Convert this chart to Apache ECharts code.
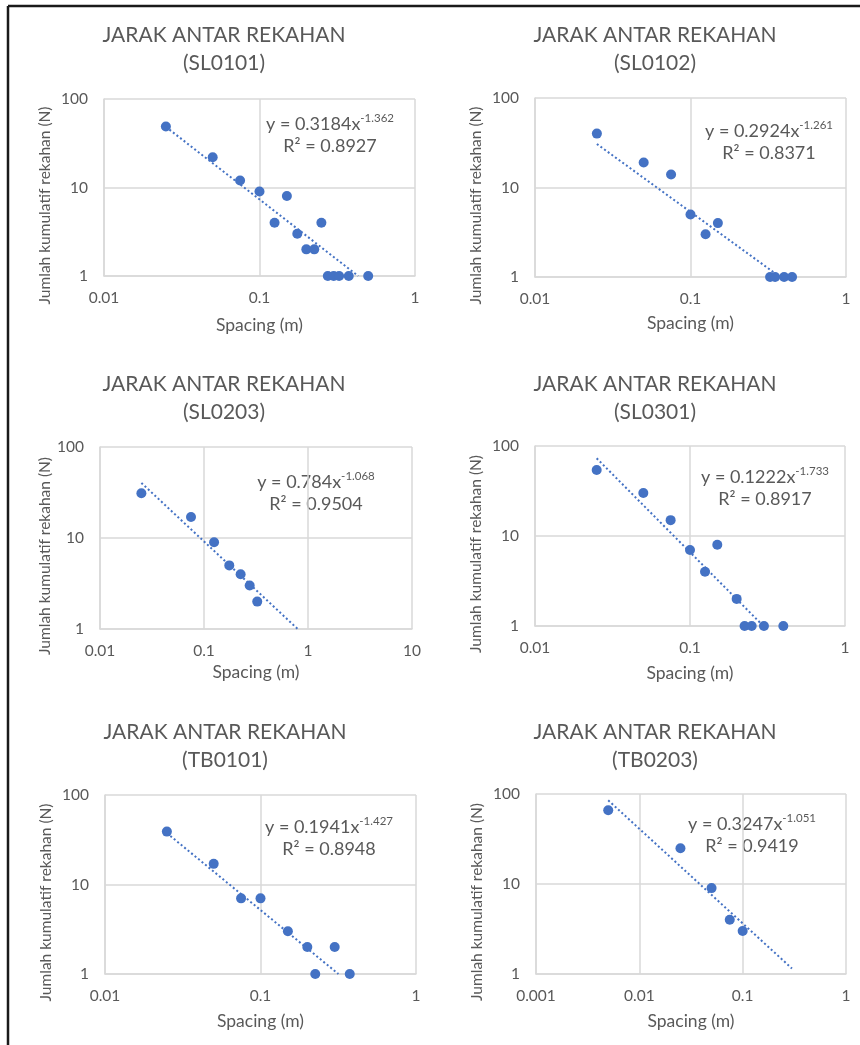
<!DOCTYPE html>
<html>
<head>
<meta charset="utf-8">
<title>Jarak antar rekahan</title>
<script src="https://cdn.jsdelivr.net/npm/echarts@6.0.0/dist/echarts.min.js"></script>
<style>
  html, body { margin: 0; padding: 0; background: #fff; }
  #chart { width: 860px; height: 1045px; }
</style>
</head>
<body>
<div id="chart"></div>
<script>
// values: spacing (m) vs cumulative number of fractures (N)
var stations = ['SL0101', 'SL0102', 'SL0203', 'SL0301', 'TB0101', 'TB0203'];

var sl0101Spacing = [0.025, 0.05, 0.075, 0.1, 0.125, 0.15, 0.175, 0.2, 0.225, 0.25, 0.275, 0.3, 0.325, 0.375, 0.5];
var sl0101Count   = [49, 22, 12, 9, 4, 8, 3, 2, 2, 4, 1, 1, 1, 1, 1];

var sl0102Spacing = [0.025, 0.05, 0.075, 0.1, 0.125, 0.15, 0.325, 0.35, 0.4, 0.45];
var sl0102Count   = [40, 19, 14, 5, 3, 4, 1, 1, 1, 1];

var sl0203Spacing = [0.025, 0.075, 0.125, 0.175, 0.225, 0.275, 0.325];
var sl0203Count   = [31, 17, 9, 5, 4, 3, 2];

var sl0301Spacing = [0.025, 0.05, 0.075, 0.1, 0.125, 0.15, 0.2, 0.225, 0.25, 0.3, 0.4];
var sl0301Count   = [54, 30, 15, 7, 4, 8, 2, 1, 1, 1, 1];

var tb0101Spacing = [0.025, 0.05, 0.075, 0.1, 0.15, 0.2, 0.225, 0.3, 0.375];
var tb0101Count   = [39, 17, 7, 7, 3, 2, 1, 2, 1];

var tb0203Spacing = [0.005, 0.025, 0.05, 0.075, 0.1];
var tb0203Count   = [66, 25, 9, 4, 3];

// power trendline y = a * x^b as printed on each chart
var fitA  = [0.3184, 0.2924, 0.784, 0.1222, 0.1941, 0.3247];
var fitB  = [-1.362, -1.261, -1.068, -1.733, -1.427, -1.051];
var fitR2 = ['0.8927', '0.8371', '0.9504', '0.8917', '0.8948', '0.9419'];
var trendFrom = [0.025, 0.025, 0.025, 0.025, 0.025, 0.005];
var trendTo   = [0.5, 0.45, 1, 0.4, 0.375, 0.3];

// axis ranges
var xMin = [0.01, 0.01, 0.01, 0.01, 0.01, 0.001];
var xMax = [1, 1, 10, 1, 1, 1];
var yMin = 1, yMax = 100;

var spacingList = [sl0101Spacing, sl0102Spacing, sl0203Spacing, sl0301Spacing, tb0101Spacing, tb0203Spacing];
var countList   = [sl0101Count, sl0102Count, sl0203Count, sl0301Count, tb0101Count, tb0203Count];

// layout (px)
var plotBox = [
  [104, 99, 311, 177], [535, 98, 311, 179],
  [100, 447, 312, 182], [535, 446, 310, 180],
  [105, 795, 311, 179], [536, 794, 310, 180]
];
var titlePos = [[224, 35], [655, 35], [224, 384], [655, 384], [225, 732], [655, 732]];
var eqPos = [[330, 135], [769, 142], [316, 493], [765, 488], [329, 838], [752, 835]];
var yNameGap = [51, 51, 47, 51, 51, 51];
var xNameGap = [40, 37, 34, 38, 38, 38];

var FONT = 'Lato, "Open Sans", sans-serif';
var TXT = '#595959';
var BLUE = '#4472C4';
var GRID = '#d9d9d9';

function tickText(v) { return String(+(+v).toPrecision(3)); }

var grids = [], xAxes = [], yAxes = [], series = [], graphics = [];

for (var i = 0; i < stations.length; i++) {
  var b = plotBox[i];
  grids.push({ left: b[0], top: b[1], width: b[2], height: b[3], containLabel: false, outerBoundsMode: 'none' });

  xAxes.push({
    type: 'log', logBase: 10, gridIndex: i, min: xMin[i], max: xMax[i],
    name: 'Spacing (m)', nameLocation: 'middle', nameGap: xNameGap[i],
    nameTextStyle: { color: TXT, fontSize: 17.5, fontFamily: FONT },
    axisLine: { show: true, lineStyle: { color: GRID, width: 1.5 } },
    axisTick: { show: false },
    axisLabel: { color: TXT, fontSize: 15.5, fontFamily: FONT, margin: 14, formatter: tickText },
    splitLine: { show: true, lineStyle: { color: GRID, width: 1.5 } },
    minorSplitLine: { show: false }
  });

  yAxes.push({
    type: 'log', logBase: 10, gridIndex: i, min: yMin, max: yMax,
    name: 'Jumlah kumulatif rekahan (N)', nameLocation: 'middle', nameGap: yNameGap[i],
    nameTextStyle: { color: TXT, fontSize: 15.5, fontFamily: FONT, padding: [0, 36, 0, 0] },
    axisLine: { show: true, lineStyle: { color: GRID, width: 1.5 } },
    axisTick: { show: false },
    axisLabel: { color: TXT, fontSize: 15.5, fontFamily: FONT, margin: 16, formatter: tickText },
    splitLine: { show: true, lineStyle: { color: GRID, width: 1.5 } }
  });

  var pts = [];
  for (var j = 0; j < spacingList[i].length; j++) pts.push([spacingList[i][j], countList[i][j]]);

  // trendline endpoints from the printed equation, stopped where it leaves the plot at N = 1
  var a = fitA[i], p = fitB[i];
  var xEnd = Math.min(trendTo[i], Math.pow(yMin / a, 1 / p));
  var trend = [[trendFrom[i], a * Math.pow(trendFrom[i], p)], [xEnd, a * Math.pow(xEnd, p)]];

  series.push({
    type: 'line', xAxisIndex: i, yAxisIndex: i, data: trend, z: 1,
    showSymbol: false, silent: true, clip: true,
    lineStyle: { color: BLUE, width: 2, type: [2, 2.5] }
  });
  series.push({
    type: 'scatter', xAxisIndex: i, yAxisIndex: i, data: pts, z: 3,
    symbol: 'circle', symbolSize: 10, itemStyle: { color: BLUE, opacity: 1 }
  });

  graphics.push({
    type: 'text', x: titlePos[i][0], y: titlePos[i][1] - 14,
    style: {
      text: 'JARAK ANTAR REKAHAN\n(' + stations[i] + ')',
      fill: TXT, font: '21px ' + FONT, lineHeight: 28,
      align: 'center', verticalAlign: 'top'
    }
  });

  graphics.push({
    type: 'text', x: eqPos[i][0], y: eqPos[i][1],
    style: {
      text: '{a|y = ' + fitA[i] + 'x}{s|' + fitB[i] + '}\n{a|R² = ' + fitR2[i] + '}',
      align: 'center', verticalAlign: 'middle',
      rich: {
        a: { fill: TXT, fontSize: 18, fontFamily: FONT, lineHeight: 22.5 },
        s: { fill: TXT, fontSize: 11.5, fontFamily: FONT, lineHeight: 14, verticalAlign: 'top' }
      }
    }
  });
}

// frame of the picture (top and left edges)
graphics.push({ type: 'line', shape: { x1: 8, y1: 6, x2: 860, y2: 6 }, style: { stroke: '#1a1a1a', lineWidth: 2.5 } });
graphics.push({ type: 'line', shape: { x1: 8, y1: 6, x2: 8, y2: 1045 }, style: { stroke: '#1a1a1a', lineWidth: 2.5 } });

var chart = echarts.init(document.getElementById('chart'), null, { renderer: 'canvas' });
chart.setOption({
  animation: false,
  backgroundColor: '#ffffff',
  grid: grids,
  xAxis: xAxes,
  yAxis: yAxes,
  series: series,
  graphic: graphics
});
</script>
</body>
</html>
